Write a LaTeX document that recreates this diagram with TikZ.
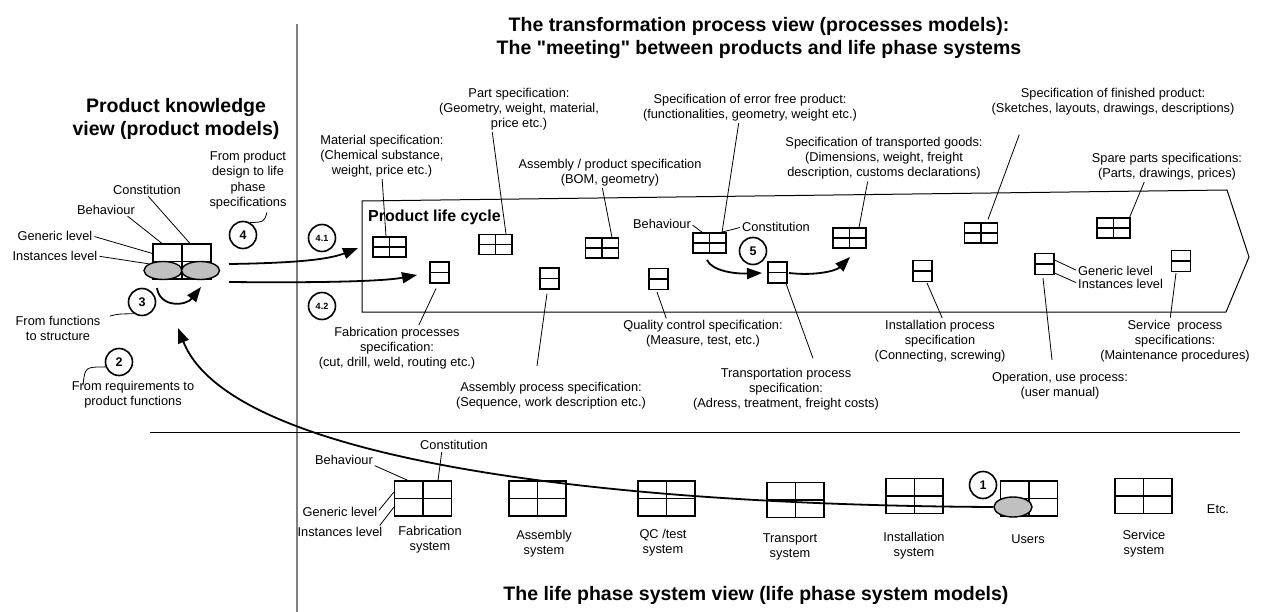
\documentclass[tikz,border=0pt]{standalone}
\usepackage{fontspec}
\setmainfont{Liberation Sans}[Ligatures=TeXOff]
\usetikzlibrary{arrows.meta,shapes.geometric}
\definecolor{ellgray}{RGB}{192,192,192}
\definecolor{axisgray}{RGB}{128,128,128}
\begin{document}
\begin{tikzpicture}[x=1pt,y=-1pt,
  lbl/.style={align=center,inner sep=0pt,font=\fontsize{12.8}{15}\selectfont},
  ttl/.style={align=center,inner sep=0pt,font=\bfseries\fontsize{19.5}{23}\selectfont},
  ldr/.style={line width=0.8pt,shorten <=2pt},
  quad/.style={draw,line width=1.1pt,inner sep=0pt,minimum width=33pt,minimum height=20pt,
    path picture={\draw[line width=1.1pt] (path picture bounding box.north) -- (path picture bounding box.south)
      (path picture bounding box.west) -- (path picture bounding box.east);}},
  duo/.style={draw,line width=1.1pt,inner sep=0pt,minimum width=19pt,minimum height=21pt,
    path picture={\draw[line width=1.1pt] (path picture bounding box.west) -- (path picture bounding box.east);}},
  bq/.style={quad,minimum width=57pt,minimum height=35pt},
  num/.style={circle,draw,line width=1.6pt,minimum size=27pt,inner sep=0pt,font=\bfseries\fontsize{12.5}{12.5}\selectfont},
  nums/.style={num,font=\bfseries\fontsize{9}{9}\selectfont},
  ell/.style={ellipse,draw,fill=ellgray,line width=1.4pt,minimum width=38pt,minimum height=18pt,inner sep=0pt},
  arr/.style={line width=1.8pt,-{Triangle[length=15pt,width=11pt]}}
]
\useasboundingbox (0,0) rectangle (1265,612);

% axes
\coordinate (vtop) at (297,24);
\coordinate (vbot) at (297,612);
\coordinate (hl) at (150,432);
\coordinate (hr) at (1240,432);
\draw[axisgray,line width=2pt] (vtop) -- (vbot);
\draw[line width=1pt] (hl) -- (hr);

% titles
\node[ttl] (ttop) at (759,38) {The transformation process view (processes models):\\The "meeting" between products and life phase systems};
\node[ttl] (tleft) at (176,119) {Product knowledge\\view (product models)};
\node[ttl] (tbot) at (756,595) {The life phase system view (life phase system models)};

% product life cycle
\coordinate (p1) at (362,201);
\coordinate (p2) at (1227,190);
\coordinate (p3) at (1249,257);
\coordinate (p4) at (1226,312);
\coordinate (p5) at (362,312);
\draw[line width=1pt] (p1) -- (p2) -- (p3) -- (p4) -- (p5) -- cycle;
\node[anchor=west,inner sep=0pt,font=\bfseries\fontsize{16}{16}\selectfont] (plc) at (368,217) {Product life cycle};

% product knowledge cluster
\node[draw,line width=1.1pt,inner sep=0pt,minimum width=58pt,minimum height=35pt,
  path picture={\draw[line width=1.1pt] (path picture bounding box.north) -- (path picture bounding box.south)
      (path picture bounding box.west) -- (path picture bounding box.east);}] (pk) at (182,261.5) {};
\node[ell] (lell) at (163,270.5) {};
\node[ell] (rell) at (200.5,270.5) {};

\node[lbl] (con1) at (147,190) {Constitution};
\node[lbl] (beh1) at (106,210) {Behaviour};
\node[lbl] (gen1) at (55,236) {Generic level};
\node[lbl] (ins1) at (55,256) {Instances level};
\draw[ldr] (con1.south) -- ([xshift=8pt]pk.north);
\draw[ldr] ([xshift=-9pt]beh1.south east) -- ([xshift=-20pt]pk.north);
\draw[ldr] (gen1.east) -- ([yshift=8pt]pk.west);
\draw[ldr] (ins1.east) -- (lell.155);

\node[lbl,font=\fontsize{12.8}{15.5}\selectfont] (fpd) at (248,180) {From product\\design to life\\phase\\specifications};
\node[num] (c4) at (243,235) {4};
\draw[ldr,shorten <=0pt] (c4.60) .. controls (264,222) .. ([yshift=-3pt]fpd.south -| 267,0);

\node[num] (c3) at (142,302) {3};
\node[lbl] (fft) at (58,328) {From functions\\to structure};
\draw[ldr] ([xshift=50pt,yshift=-1pt]fft.north) .. controls (118,314) .. (c3.235);
\coordinate (a3s) at (157,288);
\coordinate (a3t) at (201,287);
\draw[arr] (a3s) .. controls (160,308) and (186,306) .. (a3t);

\node[num] (c2) at (119,362) {2};
\node[lbl] (frp) at (133,395) {From requirements to\\product functions};
\draw[ldr,shorten <=0pt] ([xshift=-50pt,yshift=-4pt]frp.north) .. controls (85,367) .. (c2.200);

% arrows 4.1 / 4.2
\node[nums] (c41) at (322,238) {4.1};
\node[nums] (c42) at (322,306) {4.2};
\coordinate (a41s) at (229,264);
\coordinate (a41t) at (358,248);
\coordinate (a42s) at (229,282);
\coordinate (a42t) at (417,275);
\draw[arr] (a41s) .. controls (300,263) and (330,259) .. (a41t);
\draw[arr] (a42s) .. controls (330,283) and (385,281) .. (a42t);

% specification boxes (product life cycle)
\node[quad] (mbx) at (389.5,247) {};
\node[quad] (pbx) at (495.5,244.5) {};
\node[quad] (abx) at (602,248) {};
\node[quad] (ebx) at (709.5,243) {};
\node[quad] (tbx) at (849.5,238) {};
\node[quad] (fbx) at (981,233) {};
\node[quad] (sbx) at (1113.5,228) {};

\node[duo] (fpx) at (439.5,272.5) {};
\node[duo] (apx) at (549.5,278.5) {};
\node[duo] (qpx) at (658.5,279) {};
\node[duo] (tpx) at (777.5,272.5) {};
\node[duo] (ipx) at (922.5,271) {};
\node[duo] (opx) at (1044.5,264) {};
\node[duo] (spx) at (1181,261) {};

% upper labels
\node[lbl] (mat) at (382,156) {Material specification:\\(Chemical substance,\\weight, price etc.)};
\node[lbl] (part) at (519,109) {Part specification:\\(Geometry, weight, material,\\price etc.)};
\node[lbl] (asm) at (610,172.5) {Assembly / product specification\\(BOM, geometry)};
\node[lbl] (err) at (750,107.5) {Specification of error free product:\\(functionalities, geometry, weight etc.)};
\node[lbl] (trg) at (884,158.5) {Specification of transported goods:\\(Dimensions, weight, freight\\description, customs declarations)};
\node[lbl] (fin) at (1113,102) {Specification of finished product:\\(Sketches, layouts, drawings, descriptions)};
\node[lbl] (spr) at (1167,166.5) {Spare parts specifications:\\(Parts, drawings, prices)};

\draw[ldr] (mat.south) -- ([xshift=-3.5pt]mbx.north);
\draw[ldr] ([xshift=-27pt]part.south) -- ([xshift=10.5pt]pbx.north);
\draw[ldr] ([xshift=-8pt]asm.south) -- ([xshift=10pt]abx.north);
\draw[ldr] ([xshift=-11pt]err.south) -- ([xshift=12.5pt]ebx.north);
\draw[ldr] ([xshift=-16pt]trg.south) -- ([xshift=9.5pt]tbx.north);
\draw[ldr] ([xshift=-93pt,yshift=-17pt]fin.south) -- ([xshift=7pt,yshift=3pt]fbx.north);
\draw[ldr] ([xshift=-22pt]spr.south) -- ([xshift=-1pt]sbx.north east);

% Behaviour / Constitution at error free box
\node[lbl] (beh2) at (662,224) {Behaviour};
\node[lbl] (con2) at (776,227) {Constitution};
\draw[ldr] (beh2.east) -- ([xshift=10pt]ebx.north west);
\draw[ldr] (con2.west) -- ([xshift=-6pt]ebx.north east);

% arrows 5
\node[num] (c5) at (753,251) {5};
\coordinate (a5s) at (707,260);
\coordinate (a5t) at (762,273);
\coordinate (b5s) at (789,273);
\coordinate (b5t) at (850,257);
\draw[arr] (a5s) .. controls (712,271) and (735,274) .. (a5t);
\draw[arr] (b5s) .. controls (815,276) and (836,271) .. (b5t);

% lower labels
\node[lbl] (fab) at (397,348) {Fabrication processes\\specification:\\(cut, drill, weld, routing etc.)};
\node[lbl] (asp) at (551,395.5) {Assembly process specification:\\(Sequence, work description etc.)};
\node[lbl] (qc) at (703,334) {Quality control specification:\\(Measure, test, etc.)};
\node[lbl] (trp) at (786,389.5) {Transportation process\\specification:\\(Adress, treatment, freight costs)};
\node[lbl] (ins) at (940,341) {Installation process\\specification\\(Connecting, screwing)};
\node[lbl] (op) at (1060,385.5) {Operation, use process:\\(user manual)};
\node[lbl] (srv) at (1175,341) {Service~ process\\specifications:\\(Maintenance procedures)};
\node[lbl,anchor=west] (genr) at (1078,271) {Generic level};
\node[lbl,anchor=west] (insr) at (1078,283.5) {Instances level};

\draw[ldr] ([xshift=21pt]fab.north) -- ([xshift=-3.5pt,yshift=-5pt]fpx.south);
\draw[ldr,shorten <=0pt] ([xshift=-14pt,yshift=16pt]asp.north) -- ([xshift=-2.5pt,yshift=-4pt]apx.south);
\draw[ldr] ([xshift=-36pt]qc.north) -- ([xshift=-1.5pt,yshift=-2pt]qpx.south);
\draw[ldr,shorten <=0pt] ([xshift=27pt,yshift=10pt]trp.north) -- ([xshift=8.5pt]tpx.south);
\draw[ldr] ([xshift=3pt]ins.north) -- ([xshift=4.5pt,yshift=-1pt]ipx.south);
\draw[ldr,shorten <=0pt] ([xshift=-8pt,yshift=12pt]op.north) -- ([xshift=-1.5pt,yshift=-3pt]opx.south);
\draw[ldr] ([xshift=-5pt]srv.north) -- ([xshift=-5pt,yshift=-1pt]spx.south);
\draw[ldr] (genr.west) -- ([yshift=4pt]opx.east);
\draw[ldr] (insr.west) -- ([yshift=-9pt]opx.east);

% life phase systems
\node[bq] (fsy) at (423,498.5) {};
\node[bq] (asy) at (537.5,498.5) {};
\node[bq] (qsy) at (666.5,498.5) {};
\node[bq] (tsy) at (795.5,500) {};
\node[bq] (isy) at (914.5,496) {};
\node[bq] (usy) at (1029,498.5) {};
\node[bq] (ssy) at (1143.5,496) {};

\node[lbl] (lfs) at (430,540) {Fabrication\\system};
\node[lbl] (las) at (544,543.5) {Assembly\\system};
\node[lbl] (lqs) at (663,543) {QC /test\\system};
\node[lbl] (lts) at (790,547) {Transport\\system};
\node[lbl] (lis) at (914,545.5) {Installation\\system};
\node[lbl] (lus) at (1028,539) {Users};
\node[lbl] (lss) at (1144,543.5) {Service\\system};
\node[lbl] (etc) at (1218,509) {Etc.};

\node[lbl] (behb) at (344,460) {Behaviour};
\node[lbl] (conb) at (454,445) {Constitution};
\node[lbl] (genb) at (340,512) {Generic level};
\node[lbl] (insb) at (340,532) {Instances level};
\draw[ldr] (behb.south east) -- ([xshift=-15pt]fsy.north);
\draw[ldr] ([xshift=-12pt]conb.south) -- ([xshift=15pt]fsy.north);
\draw[ldr] (genb.east) -- ([yshift=6.5pt]fsy.west);
\draw[ldr] ([xshift=-4pt]insb.north east) -- ([yshift=-8.5pt]fsy.west);

% users: ellipse, circle 1, big arrow
\node[ell,minimum height=20pt] (uel) at (1013,507) {};
\node[num] (c1) at (983,485) {1};
\coordinate (bigt) at (178,328);
\draw[arr] (uel.west) .. controls (600,505) and (230,460) .. (bigt);

\end{tikzpicture}
\end{document}
